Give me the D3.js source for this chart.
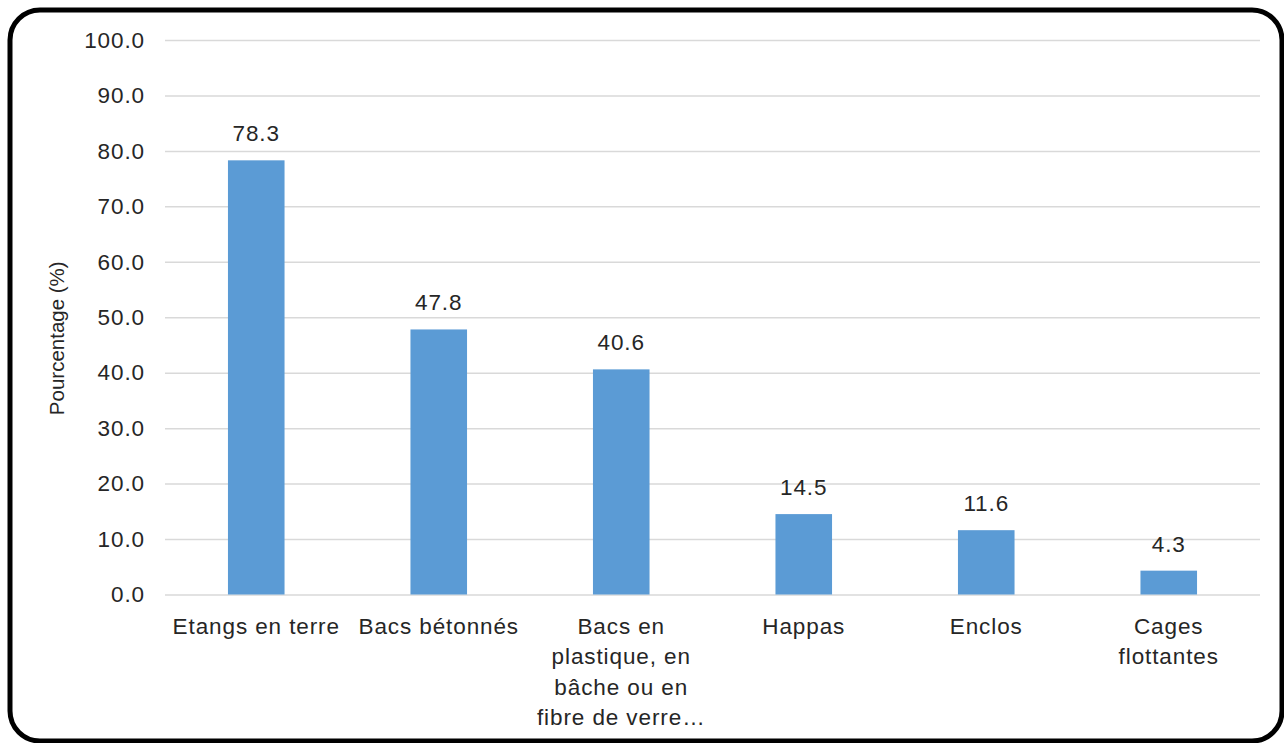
<!DOCTYPE html>
<html>
<head>
<meta charset="utf-8">
<script src="https://cdn.jsdelivr.net/npm/d3@7"></script>
<style>
  html, body { margin: 0; padding: 0; background: #fff; }
  svg { display: block; }
  text { font-family: "Liberation Sans", Arial, sans-serif; fill: #262626; }
</style>
</head>
<body>
<svg id="chart" width="1284" height="743"></svg>
<script>
// Types d'infrastructures piscicoles utilisées (%)
const categories = [
  "Etangs en terre",
  "Bacs bétonnés",
  "Bacs en plastique, en bâche ou en fibre de verre…",
  "Happas",
  "Enclos",
  "Cages flottantes"
];
const categoryLines = [
  ["Etangs en terre"],
  ["Bacs bétonnés"],
  ["Bacs en", "plastique, en", "bâche ou en", "fibre de verre…"],
  ["Happas"],
  ["Enclos"],
  ["Cages", "flottantes"]
];
const values = [78.3, 47.8, 40.6, 14.5, 11.6, 4.3];
const yTicks = [0, 10, 20, 30, 40, 50, 60, 70, 80, 90, 100];
const yTitle = "Pourcentage (%)";

const svg = d3.select("#chart");
const plot = { left: 165, right: 1260, top: 40, bottom: 594.5 };
const FS = 22.5, LS = 0.9;

// Outer rounded frame
svg.append("rect")
  .attr("x", 10).attr("y", 10)
  .attr("width", 1272).attr("height", 731)
  .attr("rx", 30).attr("ry", 30)
  .attr("fill", "#fff")
  .attr("stroke", "#000")
  .attr("stroke-width", 5);

const x = d3.scaleBand()
  .domain(categories)
  .range([plot.left, plot.right])
  .paddingInner(0.69)
  .paddingOuter(0.345);

const y = d3.scaleLinear()
  .domain([0, 100])
  .range([plot.bottom, plot.top]);

// Horizontal gridlines + tick labels
const yAxis = d3.axisLeft(y)
  .tickValues(yTicks)
  .tickFormat(d3.format(".1f"))
  .tickSize(-(plot.right - plot.left))
  .tickPadding(20);

const gy = svg.append("g")
  .attr("transform", `translate(${plot.left},0)`)
  .call(yAxis);
gy.select(".domain").remove();
gy.selectAll(".tick line")
  .attr("stroke", "#d9d9d9")
  .attr("stroke-width", 1.5);
gy.selectAll(".tick text")
  .attr("font-size", FS)
  .attr("letter-spacing", LS)
  .attr("fill", "#262626")
  .style("font-family", "'Liberation Sans', Arial, sans-serif");

// Axis title
svg.append("text")
  .attr("transform", `translate(64,${(plot.top + plot.bottom) / 2 + 21}) rotate(-90)`)
  .attr("text-anchor", "middle")
  .attr("font-size", 20.5)
  .text(yTitle);

// Bars
svg.append("g").selectAll("rect")
  .data(values)
  .join("rect")
  .attr("x", (d, i) => x(categories[i]))
  .attr("y", d => y(d))
  .attr("width", x.bandwidth())
  .attr("height", d => y(0) - y(d))
  .attr("fill", "#5b9bd5");

// Value labels
svg.append("g").selectAll("text")
  .data(values)
  .join("text")
  .attr("x", (d, i) => x(categories[i]) + x.bandwidth() / 2)
  .attr("y", d => y(d) - 19)
  .attr("text-anchor", "middle")
  .attr("font-size", FS)
  .attr("letter-spacing", LS)
  .text(d => d3.format(".1f")(d));

// Category labels (wrapped lines)
const gx = svg.append("g");
categories.forEach((c, i) => {
  const t = gx.append("text")
    .attr("x", x(c) + x.bandwidth() / 2)
    .attr("y", plot.bottom + 39)
    .attr("text-anchor", "middle")
    .attr("font-size", FS)
    .attr("letter-spacing", LS);
  categoryLines[i].forEach((line, k) => {
    t.append("tspan")
      .attr("x", x(c) + x.bandwidth() / 2)
      .attr("dy", k === 0 ? 0 : 30.5)
      .text(line);
  });
});
</script>
</body>
</html>
